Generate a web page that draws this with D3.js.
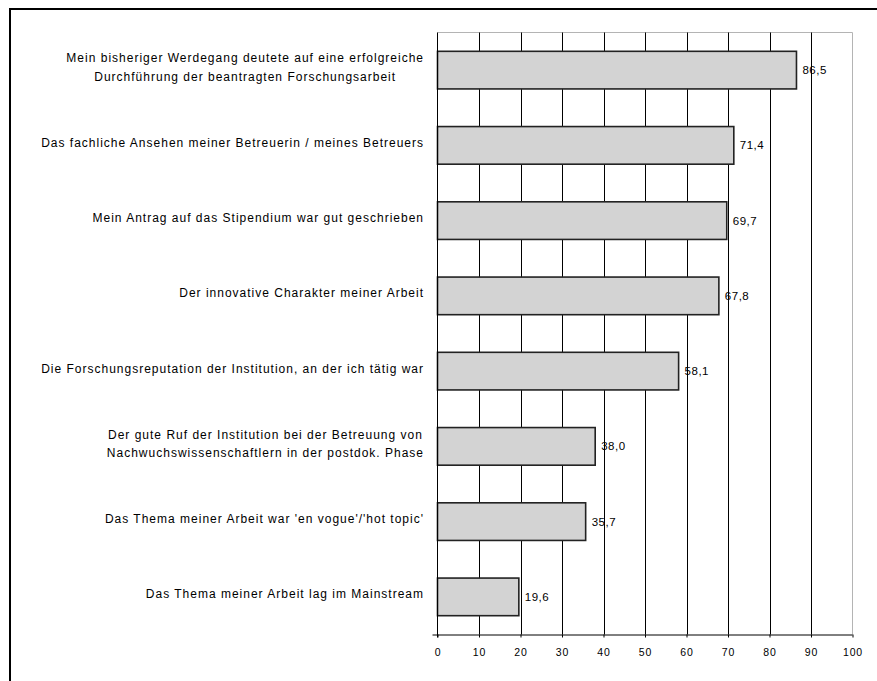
<!DOCTYPE html>
<html>
<head>
<meta charset="utf-8">
<script src="https://cdn.jsdelivr.net/npm/d3@7"></script>
<style>
  body { margin: 0; background: #fff; }
  svg text { font-family: "Liberation Sans", Arial, sans-serif; fill: #000; }
</style>
</head>
<body>
<div id="chart"></div>
<script>
// categories (top to bottom), each one split into its printed lines
let labels = [
    ["Mein bisheriger Werdegang deutete auf eine erfolgreiche", "Durchführung der beantragten Forschungsarbeit"],
    ["Das fachliche Ansehen meiner Betreuerin / meines Betreuers"],
    ["Mein Antrag auf das Stipendium war gut geschrieben"],
    ["Der innovative Charakter meiner Arbeit"],
    ["Die Forschungsreputation der Institution, an der ich tätig war"],
    ["Der gute Ruf der Institution bei der Betreuung von", "Nachwuchswissenschaftlern in der postdok. Phase"],
    ["Das Thema meiner Arbeit war 'en vogue'/'hot topic'"],
    ["Das Thema meiner Arbeit lag im Mainstream"]
];
let values = [86.5, 71.4, 69.7, 67.8, 58.1, 38.0, 35.7, 19.6];
let xTicks = [0, 10, 20, 30, 40, 50, 60, 70, 80, 90, 100];

let width = 877, height = 681;

let svg = d3.select("#chart").append("svg")
    .attr("width", width)
    .attr("height", height);

// outer frame (only top and left edges visible)
svg.append("path")
    .attr("d", "M10,681 V9 H877")
    .attr("fill", "none")
    .attr("stroke", "#000")
    .attr("stroke-width", 2);

let plot = { left: 437.5, right: 852.5, top: 32.5, bottom: 634.5 };

let data = labels.map((l, i) => ({ id: i, lines: l, value: values[i] }));

let x = d3.scaleLinear()
    .domain([0, 100])
    .range([plot.left, plot.right]);

let y = d3.scaleBand()
    .domain(data.map(d => d.id))
    .range([plot.top, plot.bottom])
    .paddingInner(0.5)
    .paddingOuter(0.25);

// plot border (light gray top and right)
svg.append("path")
    .attr("d", "M" + plot.left + "," + plot.top + " H" + plot.right + " V" + plot.bottom)
    .attr("fill", "none")
    .attr("stroke", "#b4b4b4")
    .attr("stroke-width", 1);

// vertical gridlines
svg.append("g")
    .selectAll("line")
    .data(xTicks.filter(t => t > 0 && t < 100))
    .enter()
    .append("line")
    .attr("x1", d => Math.round(x(d)) + 0.5)
    .attr("x2", d => Math.round(x(d)) + 0.5)
    .attr("y1", plot.top)
    .attr("y2", plot.bottom)
    .attr("stroke", "#000")
    .attr("stroke-width", 1);

// bars
svg.append("g")
    .selectAll("rect")
    .data(data)
    .enter()
    .append("rect")
    .attr("x", x(0))
    .attr("y", d => y(d.id))
    .attr("width", d => x(d.value) - x(0))
    .attr("height", y.bandwidth())
    .attr("fill", "#d3d3d3")
    .attr("stroke", "#222")
    .attr("stroke-width", 1.6);

// x axis
let xAxis = d3.axisBottom(x)
    .tickValues(xTicks)
    .tickSize(3)
    .tickPadding(11)
    .tickFormat(d3.format("d"));

let gx = svg.append("g")
    .attr("transform", "translate(0," + plot.bottom + ")")
    .call(xAxis);
gx.select(".domain")
    .attr("d", "M" + (plot.left - 5) + ",0.5 H" + plot.right)
    .attr("stroke", "#000");
gx.selectAll("text")
    .attr("font-size", 10.5)
    .attr("letter-spacing", 0.8)
    .attr("font-family", "Liberation Sans, Arial, sans-serif");

// y axis line
svg.append("line")
    .attr("x1", plot.left)
    .attr("x2", plot.left)
    .attr("y1", plot.top)
    .attr("y2", plot.bottom + 3)
    .attr("stroke", "#000");

// value labels
svg.append("g")
    .selectAll("text")
    .data(data)
    .enter()
    .append("text")
    .attr("x", d => x(d.value) + 6)
    .attr("y", d => y(d.id) + y.bandwidth() / 2 + 4)
    .attr("font-size", 11.5)
    .attr("letter-spacing", 0.5)
    .text(d => d3.format(".1f")(d.value).replace(".", ","));

// category labels: lines centred on each other, block right-aligned
let labelRight = 424;
let lineH = 18.5;
let groups = svg.append("g")
    .selectAll("g")
    .data(data)
    .enter()
    .append("g");

groups.each(function(d) {
    let g = d3.select(this);
    let cy = y(d.id) + y.bandwidth() / 2 - 2.5;
    let texts = d.lines.map((line, j) => g.append("text")
        .attr("font-size", 12)
        .attr("letter-spacing", 1)
        .attr("text-anchor", "middle")
        .attr("y", cy + (j - (d.lines.length - 1) / 2) * lineH + 4)
        .text(line));
    let maxW = d3.max(texts, t => t.node().getComputedTextLength());
    texts.forEach(t => t.attr("x", labelRight - maxW / 2));
});
</script>
</body>
</html>
